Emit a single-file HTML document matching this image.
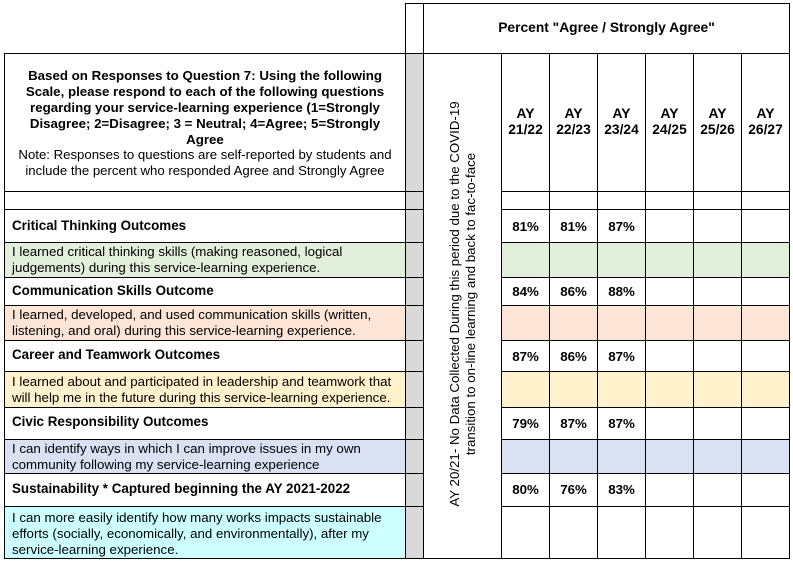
<!DOCTYPE html>
<html><head><meta charset="utf-8"><style>
body{margin:0;background:#fff;width:793px;height:563px;position:relative;overflow:hidden;font-family:"Liberation Sans",Arial,sans-serif;color:#000}
.c{position:absolute;box-sizing:border-box;border:1px solid #000;}
.t{position:absolute;font-size:13.3px;line-height:16px;white-space:nowrap}
.b{font-weight:bold;font-size:13.4px}
.n{position:absolute;font-weight:bold;font-size:13.5px;text-align:center;}
</style></head><body>
<div class="c" style="left:405px;top:3px;width:19px;height:51px"></div>
<div class="c" style="left:423px;top:3px;width:367px;height:51px"></div>
<div class="n" style="left:423px;top:20px;width:367px;font-size:13.8px">Percent "Agree / Strongly Agree"</div>

<div class="c" style="left:4px;top:53px;width:402px;height:139px"></div>
<div class="t" style="left:4px;top:68px;width:402px;text-align:center;font-weight:bold;font-size:13.3px;line-height:16px">Based on Responses to Question 7: Using the following<br>Scale, please respond to each of the following questions<br>regarding your service-learning experience (1=Strongly<br>Disagree; 2=Disagree; 3 = Neutral; 4=Agree; 5=Strongly<br>Agree</div>
<div class="t" style="left:4px;top:147px;width:402px;text-align:center;font-size:13.2px">Note: Responses to questions are self-reported by students and<br>include the percent who responded Agree and Strongly Agree</div>
<div class="c" style="left:4px;top:191px;width:402px;height:19px"></div>

<div class="c" style="left:4px;top:209px;width:402px;height:34px"></div>
<div class="t b" style="left:12px;top:218px">Critical Thinking Outcomes</div>
<div class="c" style="left:4px;top:242px;width:402px;height:36px;background:#e2efda"></div>
<div class="t" style="left:12px;top:244px">I learned critical thinking skills (making reasoned, logical<br>judgements) during this service-learning experience.</div>

<div class="c" style="left:4px;top:277px;width:402px;height:29px"></div>
<div class="t b" style="left:12px;top:283px">Communication Skills Outcome</div>
<div class="c" style="left:4px;top:305px;width:402px;height:36px;background:#fce4d6"></div>
<div class="t" style="left:12px;top:307px">I learned, developed, and used communication skills (written,<br>listening, and oral) during this service-learning experience.</div>

<div class="c" style="left:4px;top:340px;width:402px;height:32px"></div>
<div class="t b" style="left:12px;top:347px">Career and Teamwork Outcomes</div>
<div class="c" style="left:4px;top:371px;width:402px;height:37px;background:#fff2cc"></div>
<div class="t" style="left:12px;top:374px">I learned about and participated in leadership and teamwork that<br>will help me in the future during this service-learning experience.</div>

<div class="c" style="left:4px;top:407px;width:402px;height:33px"></div>
<div class="t b" style="left:12px;top:414px">Civic Responsibility Outcomes</div>
<div class="c" style="left:4px;top:439px;width:402px;height:35px;background:#d9e1f2"></div>
<div class="t" style="left:12px;top:441px">I can identify ways in which I can improve issues in my own<br>community following my service-learning experience</div>

<div class="c" style="left:4px;top:473px;width:402px;height:34px"></div>
<div class="t b" style="left:12px;top:481px">Sustainability * Captured beginning the AY 2021-2022</div>
<div class="c" style="left:4px;top:506px;width:402px;height:53px;background:#ccffff"></div>
<div class="t" style="left:12px;top:510px">I can more easily identify how many works impacts sustainable<br>efforts (socially, economically, and environmentally), after my<br>service-learning experience.</div>

<div class="c" style="left:405px;top:53px;width:19px;height:506px;background:#d9d9d9"></div>
<svg style="position:absolute;left:0;top:0" width="793" height="563">
<g stroke="#000" stroke-width="1.2" shape-rendering="crispEdges">
<line x1="405" y1="191.5" x2="424" y2="191.5"/><line x1="405" y1="209.5" x2="424" y2="209.5"/>
<line x1="405" y1="242.5" x2="424" y2="242.5"/><line x1="405" y1="277.5" x2="424" y2="277.5"/>
<line x1="405" y1="305.5" x2="424" y2="305.5"/><line x1="405" y1="340.5" x2="424" y2="340.5"/>
<line x1="405" y1="371.5" x2="424" y2="371.5"/><line x1="405" y1="407.5" x2="424" y2="407.5"/>
<line x1="405" y1="439.5" x2="424" y2="439.5"/><line x1="405" y1="473.5" x2="424" y2="473.5"/>
<line x1="405" y1="506.5" x2="424" y2="506.5"/>
</g></svg>

<div class="c" style="left:423px;top:53px;width:79px;height:506px"></div>
<div style="position:absolute;left:243px;top:288px;width:440px;transform:rotate(-90deg);transform-origin:center;text-align:center;font-size:13.3px;line-height:16px;white-space:nowrap">AY 20/21- No Data Collected During this period due to the COVID-19<br>transition to on-line learning and back to fac-to-face</div>

<svg style="position:absolute;left:0;top:0" width="793" height="563">
<rect x="501" y="242" width="288" height="35" fill="#e2efda"/>
<rect x="501" y="305" width="288" height="35" fill="#fce4d6"/>
<rect x="501" y="371" width="288" height="36" fill="#fff2cc"/>
<rect x="501" y="439" width="288" height="34" fill="#d9e1f2"/>
<g stroke="#000" stroke-width="1.2" shape-rendering="crispEdges">
<line x1="501.5" y1="53" x2="501.5" y2="559"/>
<line x1="549.5" y1="53" x2="549.5" y2="559"/>
<line x1="597.5" y1="53" x2="597.5" y2="559"/>
<line x1="645.5" y1="53" x2="645.5" y2="559"/>
<line x1="693.5" y1="53" x2="693.5" y2="559"/>
<line x1="741.5" y1="53" x2="741.5" y2="559"/>
<line x1="789.5" y1="3" x2="789.5" y2="559"/>
<line x1="501" y1="191.5" x2="790" y2="191.5"/>
<line x1="501" y1="209.5" x2="790" y2="209.5"/>
<line x1="501" y1="242.5" x2="790" y2="242.5"/>
<line x1="501" y1="277.5" x2="790" y2="277.5"/>
<line x1="501" y1="305.5" x2="790" y2="305.5"/>
<line x1="501" y1="340.5" x2="790" y2="340.5"/>
<line x1="501" y1="371.5" x2="790" y2="371.5"/>
<line x1="501" y1="407.5" x2="790" y2="407.5"/>
<line x1="501" y1="439.5" x2="790" y2="439.5"/>
<line x1="501" y1="473.5" x2="790" y2="473.5"/>
<line x1="501" y1="506.5" x2="790" y2="506.5"/>
<line x1="501" y1="558.5" x2="790" y2="558.5"/>
</g>
<g font-family="Liberation Sans, Arial, sans-serif" font-weight="bold" font-size="13.8" text-anchor="middle">
<text x="525.5" y="118">AY</text><text x="525.5" y="134">21/22</text>
<text x="573.5" y="118">AY</text><text x="573.5" y="134">22/23</text>
<text x="621.5" y="118">AY</text><text x="621.5" y="134">23/24</text>
<text x="669.5" y="118">AY</text><text x="669.5" y="134">24/25</text>
<text x="717.5" y="118">AY</text><text x="717.5" y="134">25/26</text>
<text x="765.5" y="118">AY</text><text x="765.5" y="134">26/27</text>
</g>
<g font-family="Liberation Sans, Arial, sans-serif" font-weight="bold" font-size="13.3" text-anchor="middle">
<text x="525.5" y="231">81%</text><text x="573.5" y="231">81%</text><text x="621.5" y="231">87%</text>
<text x="525.5" y="296">84%</text><text x="573.5" y="296">86%</text><text x="621.5" y="296">88%</text>
<text x="525.5" y="361">87%</text><text x="573.5" y="361">86%</text><text x="621.5" y="361">87%</text>
<text x="525.5" y="428">79%</text><text x="573.5" y="428">87%</text><text x="621.5" y="428">87%</text>
<text x="525.5" y="494">80%</text><text x="573.5" y="494">76%</text><text x="621.5" y="494">83%</text>
</g>
</svg>
</body></html>
